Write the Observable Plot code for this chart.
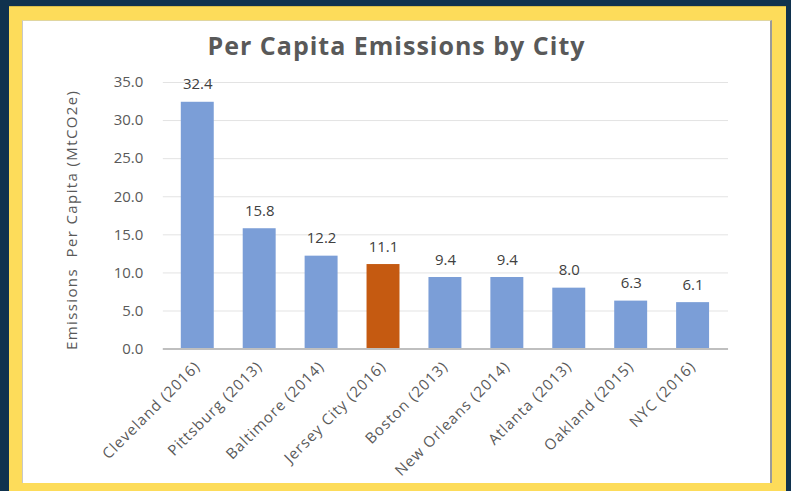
<!DOCTYPE html>
<html>
<head>
<meta charset="utf-8">
<script src="https://cdn.jsdelivr.net/npm/d3@7"></script>
<script src="https://cdn.jsdelivr.net/npm/@observablehq/plot@0.6"></script>
<style>
  html, body { margin: 0; padding: 0; }
  body { width: 791px; height: 491px; overflow: hidden; position: relative; background: #10324e; font-family: "Open Sans", sans-serif; }
  #frame { position: absolute; left: 9px; top: 6px; width: 777px; height: 490px; background: #fddc5a; border-top: 1px solid #d9bd4a; box-sizing: border-box; }
  #panel { position: absolute; left: 22px; top: 20px; width: 750px; height: 463px; background: #ffffff; box-sizing: border-box; border-left: 1px solid #c8c8c8; border-top: 1px solid #e0d6a0; border-right: 2px solid #9a9a9a; overflow: hidden; }
  #title { height: 40px; box-sizing: border-box; padding-top: 4px; line-height: 40px; text-align: center; font-size: 25px; font-weight: 700; letter-spacing: 1px; color: #595959; }
  #chart svg { display: block; overflow: visible; }
  #chart g[aria-label="x-axis tick label"] text { letter-spacing: 1px; }
  #chart text.ylabel { letter-spacing: 1.4px; }
</style>
</head>
<body>
<div id="frame"></div>
<div id="panel">
  <div id="title">Per Capita Emissions by City</div>
  <div id="chart"></div>
</div>
<script>
const cities = ["Cleveland (2016)", "Pittsburg (2013)", "Baltimore (2014)", "Jersey City (2016)", "Boston (2013)", "New Orleans (2014)", "Atlanta (2013)", "Oakland (2015)", "NYC (2016)"];
const values = [32.4, 15.8, 12.2, 11.1, 9.4, 9.4, 8.0, 6.3, 6.1];
const highlight = "Jersey City (2016)";
const yTicks = [0, 5, 10, 15, 20, 25, 30, 35];
const yLabel = "Emissions  Per Capita (MtCO2e)";

const data = cities.map((c, i) => ({city: c, value: values[i]}));
const blue = "#7b9ed7";
const orange = "#c55a11";

const chart = Plot.plot({
  width: 748,
  height: 423,
  marginLeft: 140,
  marginRight: 42,
  marginTop: 21,
  marginBottom: 135,
  style: { fontFamily: "Open Sans, sans-serif", fontSize: "15px", color: "#595959", background: "transparent" },
  x: { domain: cities, paddingInner: 0.46, paddingOuter: 0.23, label: null },
  y: { domain: [0, 35], ticks: yTicks, label: null },
  color: { type: "identity" },
  marks: [
    Plot.gridY(yTicks, { stroke: "#e3e3e3", strokeOpacity: 1, strokeWidth: 1 }),
    Plot.barY(data, { x: "city", y: "value", fill: d => d.city === highlight ? orange : blue }),
    Plot.ruleY([0], { stroke: "#bfbfbf", strokeWidth: 2 }),
    Plot.text(data, { x: "city", y: "value", text: d => d.value.toFixed(1), dy: -13, lineAnchor: "bottom", fill: "#404040", fontSize: 15 }),
    Plot.axisY({ ticks: yTicks, tickFormat: d => d.toFixed(1), tickSize: 0, tickPadding: 20, label: null, fontSize: 15 }),
    Plot.axisX({ tickRotate: -45, tickSize: 0, tickPadding: 15, label: null, fontSize: 15 }),
    Plot.text([yLabel], { frameAnchor: "left", textAnchor: "middle", rotate: -90, dx: -91, dy: 4, fill: "#595959", fontSize: 15 })
  ]
});
chart.querySelectorAll("text").forEach(t => { if (t.textContent === yLabel) t.classList.add("ylabel"); });
document.getElementById("chart").appendChild(chart);
</script>
</body>
</html>
